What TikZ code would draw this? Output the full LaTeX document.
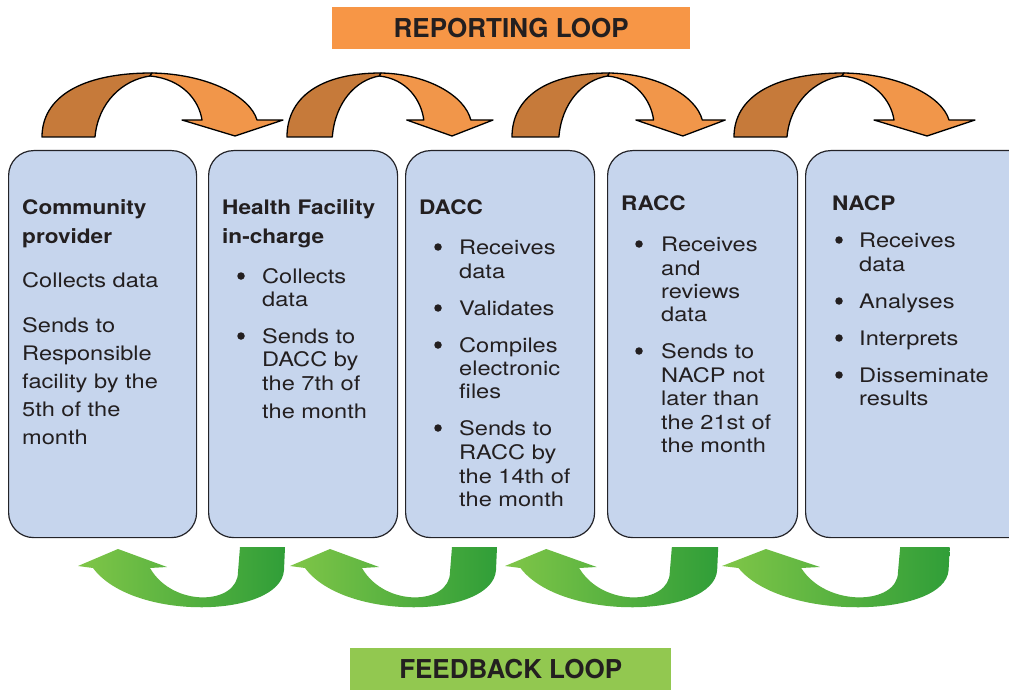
\documentclass[tikz,border=0pt]{standalone}
\usepackage{fontspec}
\setmainfont{TeX Gyre Heros}
\newfontfamily\bodyfont{TeX Gyre Heros}[FakeStretch=1.18]
\newfontfamily\headfont{TeX Gyre Heros}[FakeStretch=1.13]
\definecolor{boxblue}{RGB}{198,213,237}
\definecolor{boxline}{RGB}{35,35,40}
\definecolor{txtdark}{RGB}{35,31,32}
\definecolor{odark}{RGB}{198,122,58}
\definecolor{olight}{RGB}{241,150,74}
\definecolor{bannerorange}{RGB}{247,150,70}
\definecolor{bannergreen}{RGB}{146,200,80}
\definecolor{glight}{RGB}{128,198,72}
\definecolor{gdark}{RGB}{48,158,56}
\tikzset{
  stagebox/.style={draw=boxline, line width=1.2pt, fill=boxblue, rounded corners=25pt, anchor=north west, inner sep=0pt, minimum height=387},
  bt/.style={font=\bodyfont\fontsize{20}{24}\selectfont, text=txtdark, inner sep=0pt, anchor=base west},
  hd/.style={bt, font=\headfont\bfseries\fontsize{20}{24}\selectfont},
  bul/.style={circle, fill=txtdark, inner sep=0pt, minimum size=7.5pt},
  banner/.style={inner sep=0pt, font=\bfseries\fontsize{26}{30}\selectfont, text=txtdark},
  reparrow/.pic={
    \filldraw[fill=odark, draw=black, line width=1.3pt, line join=round]
      (0,137) .. controls (0,98) and (38,73) .. (110,73) -- (108,76)
      .. controls (80,80) and (56,103) .. (53,137) -- cycle;
    \filldraw[fill=olight, draw=black, line width=1.3pt, line join=round]
      (110,73) .. controls (165,74) and (208,96) .. (215,120) -- (241,120) -- (193,136) -- (140,120) -- (160,120)
      .. controls (157,100) and (140,79) .. (108,76) -- cycle;
  },
  fbarrow/.pic={
    \shade[left color=glight, right color=gdark]
      (0,566) -- (40,549) -- (89,567) -- (72,568)
      .. controls (95,608) and (160,605) .. (160,572) -- (162,547) -- (207,547) -- (206,570)
      .. controls (203,618) and (55,622) .. (15,568) -- cycle;
  }
}
\begin{document}
\begin{tikzpicture}[x=1pt,y=-1pt]
\useasboundingbox (0,0) rectangle (1009,690);
\fill[white] (0,0) rectangle (1009,690);

% banners
\node[banner, fill=bannerorange, minimum width=358, minimum height=42, anchor=north west] (rep) at (332,7) {REPORTING LOOP};
\node[banner, fill=bannergreen, minimum width=321, minimum height=42, anchor=north west] (fb) at (350,648) {FEEDBACK LOOP};

% reporting arrows
\pic at (42,0) {reparrow};
\pic[xscale=0.855] at (287,0) {reparrow};
\pic[xscale=0.885] at (512,0) {reparrow};
\pic at (734,0) {reparrow};

% feedback arrows
\pic at (78,0) {fbarrow};
\pic at (290,0) {fbarrow};
\pic[xscale=1.03] at (505,0) {fbarrow};
\pic[xscale=1.1] at (722,0) {fbarrow};

% boxes
\begin{scope}
\clip (0,0) rectangle (1009,690);
\node[stagebox, minimum width=188] (b1) at (8,150) {};
\node[stagebox, minimum width=189] (b2) at (208,150) {};
\node[stagebox, minimum width=189] (b3) at (405,150) {};
\node[stagebox, minimum width=190] (b4) at (607,150) {};
\node[stagebox, minimum width=240] (b5) at (805,150) {};
\end{scope}

% box 1
\node[hd] (h1a) at (22,214) {Community};
\node[hd] (h1b) at (22,243) {provider};
\foreach \t/\yy [count=\i] in {Collects data/287, Sends to/332, Responsible/360, facility by the/388, 5th of the/416, month/444}
  {\node[bt] (t1\i) at (22,\yy) {\t};}

% box 2
\node[hd] (h2a) at (222,214) {Health Facility};
\node[hd] (h2b) at (222,243) {in-charge};
\foreach \yy [count=\i] in {283,343} {\node[bul] (u2\i) at (241,\yy-7) {};}
\foreach \t/\yy [count=\i] in {Collects/283, data/306, Sends to/343, DACC by/366, the 7th of/390, the month/418}
  {\node[bt] (t2\i) at (262,\yy) {\t};}

% box 3
\node[hd] (h3) at (419,214) {DACC};
\foreach \yy [count=\i] in {254,315,352,435} {\node[bul] (u3\i) at (438,\yy-7) {};}
\foreach \t/\yy [count=\i] in {Receives/254, data/278, Validates/315, Compiles/352, electronic/375, files/398, Sends to/435, RACC by/459, the 14th of/483, the month/506}
  {\node[bt] (t3\i) at (459,\yy) {\t};}

% box 4
\node[hd] (h4) at (621,210) {RACC};
\foreach \yy [count=\i] in {251,358} {\node[bul] (u4\i) at (639,\yy-7) {};}
\foreach \t/\yy [count=\i] in {Receives/251, and/275, reviews/298, data/321, Sends to/358, NACP not/382, later than/405, the 21st of/429, the month/452}
  {\node[bt] (t4\i) at (661,\yy) {\t};}

% box 5
\node[hd] (h5) at (832,210) {NACP};
\foreach \yy [count=\i] in {247,308,345,382} {\node[bul] (u5\i) at (839,\yy-7) {};}
\foreach \t/\yy [count=\i] in {Receives/247, data/271, Analyses/308, Interprets/345, Disseminate/382, results/405}
  {\node[bt] (t5\i) at (859,\yy) {\t};}
\end{tikzpicture}
\end{document}
